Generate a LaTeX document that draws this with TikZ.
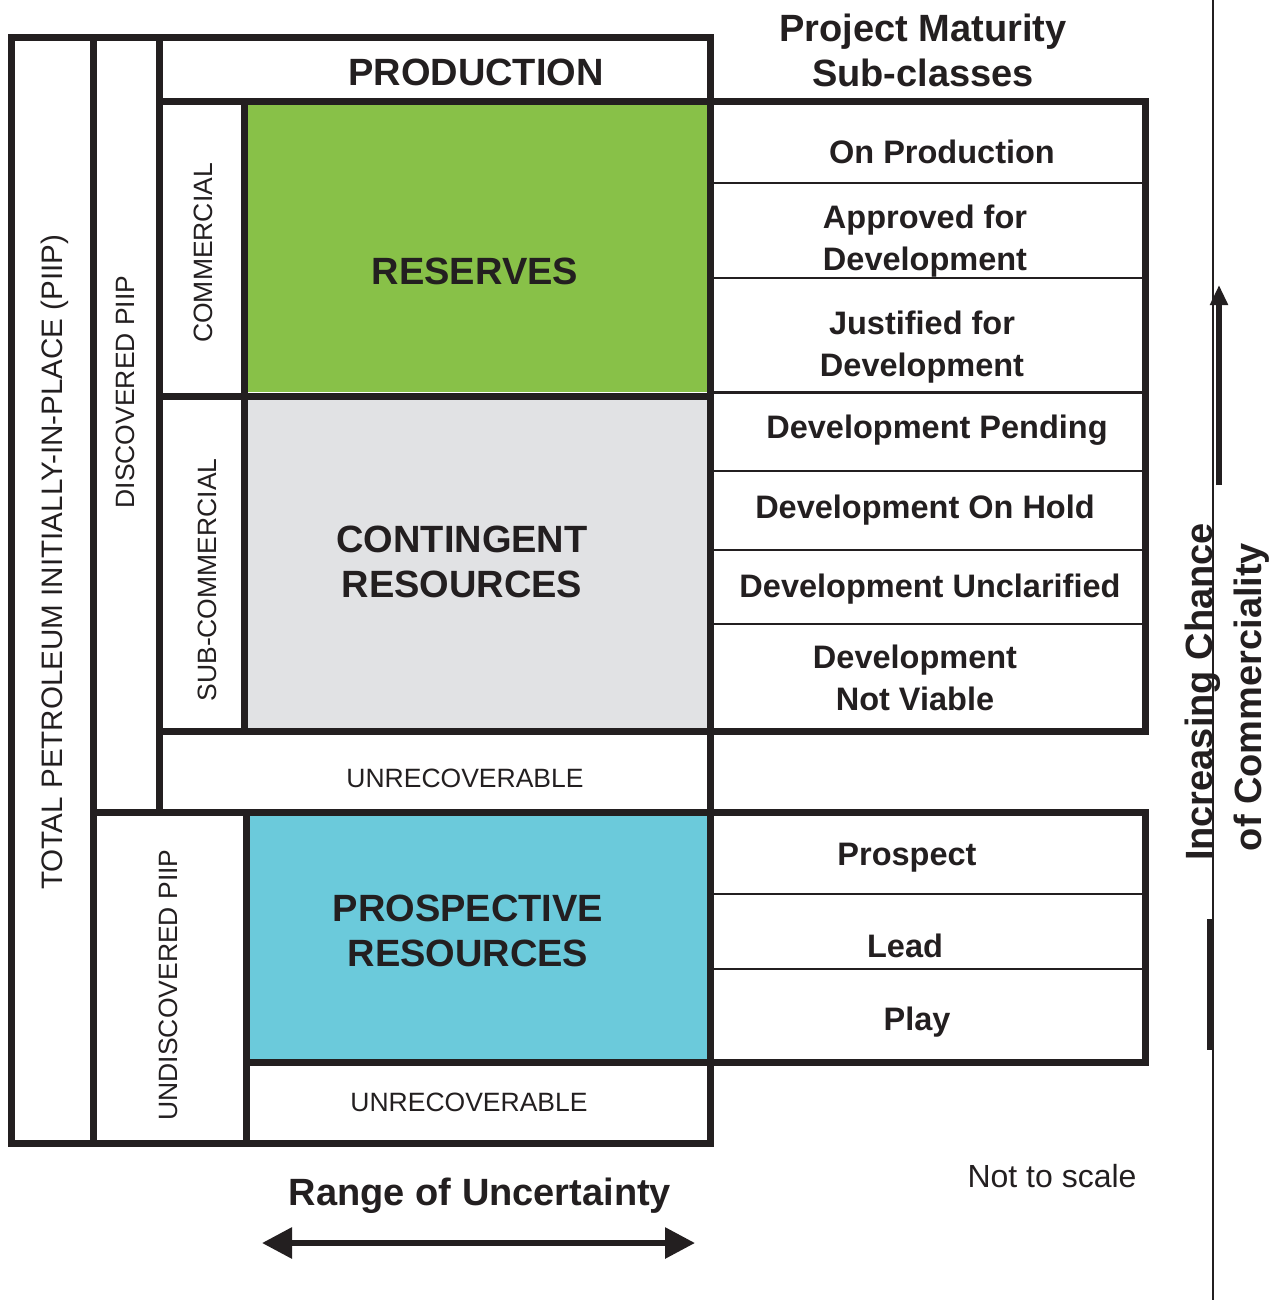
\documentclass[tikz,border=0pt]{standalone}
\usepackage{fontspec}
\setmainfont{Liberation Sans}
\usetikzlibrary{arrows.meta}
\definecolor{ink}{HTML}{231F20}
\definecolor{resgreen}{HTML}{88C148}
\definecolor{congrey}{HTML}{E1E2E4}
\definecolor{prospcyan}{HTML}{6BCADB}

\begin{document}
\begin{tikzpicture}[
  x=1pt, y=-1pt,
  frame/.style={ink, line width=7pt},
  divider/.style={ink, line width=1.5pt},
  every node/.style={inner sep=0pt, text=ink},
  big/.style={font=\bfseries\fontsize{38}{45}\selectfont, align=center},
  sub/.style={font=\bfseries\fontsize{32.5}{42}\selectfont, align=center},
  band/.style={font=\fontsize{26.5}{30}\selectfont},
  vband/.style={band, rotate=90},
  span/.style={ink, line width=6pt}
]
\useasboundingbox (0,0) rectangle (1283,1300);
\fill[resgreen] (247,105) rectangle (708,392);
\fill[congrey] (247,396) rectangle (708,728);
\fill[prospcyan] (246,812) rectangle (710,1062);

\draw[frame] (11,38) rectangle (710,1143);
\draw[frame] (93,38) -- (93,1143);
\draw[frame] (159,38) -- (159,812);
\draw[frame] (159,102) -- (1145,102) -- (1145,731) -- (159,731);
\draw[frame] (244,102) -- (244,731);
\draw[frame] (159,396) -- (710,396);
\draw[frame] (93,812) -- (1145,812) -- (1145,1062) -- (246,1062);
\draw[frame] (246,812) -- (246,1143);

\foreach \y in {183,278,471,550,624,894,969}
  \draw[divider] (712,\y) -- (1143,\y);
\draw[ink, line width=3pt] (712,392) -- (1143,392);

\node[big] (prod) at (476,72) {PRODUCTION};
\node[big] (maturity) at (923,50) {Project Maturity\\Sub-classes};
\node[big] (reserves) at (475,271) {RESERVES};
\node[big] (contingent) at (462,562) {CONTINGENT\\RESOURCES};
\node[big] (prospective) at (468,931) {PROSPECTIVE\\RESOURCES};
\node[band] (unrecdisc) at (465,778) {UNRECOVERABLE};
\node[band] (unrecundisc) at (469,1102) {UNRECOVERABLE};

\node[vband, font=\fontsize{29.6}{34}\selectfont] (total) at (55,562) {TOTAL PETROLEUM INITIALLY-IN-PLACE (PIIP)};
\node[vband] (discovered) at (125,392) {DISCOVERED PIIP};
\node[vband] (commercial) at (203,253) {COMMERCIAL};
\node[vband] (subcommercial) at (207,580) {SUB-COMMERCIAL};
\node[vband] (undiscovered) at (168,985) {UNDISCOVERED PIIP};

\node[sub] (onprod) at (942,152) {On Production};
\node[sub] (approved) at (925,241) {Approved for\\Development};
\node[sub] (justified) at (922,347) {Justified for\\Development};
\node[sub] (pending) at (937,430) {Development Pending};
\node[sub] (onhold) at (925,510) {Development On Hold};
\node[sub] (unclarified) at (930,589) {Development Unclarified};
\node[sub] (notviable) at (915,678) {Development\\Not Viable};
\node[sub] (prospect) at (907,858) {Prospect};
\node[sub] (lead) at (905,946) {Lead};
\node[sub] (play) at (917,1022) {Play};

\draw[ink, line width=2pt] (1213,0) -- (1213,1300);
\draw[ink, line width=5pt] (1209.5,919) -- (1209.5,1050);
\coordinate (upfoot) at (1219,485);
\coordinate (uptip) at (1219,285);
\draw[span, -{Triangle[length=20pt,width=17pt]}] (upfoot) -- (uptip);
\node[big, rotate=90] (chance) at (1203,692) {Increasing Chance};
\node[big, rotate=90] (commerciality) at (1252,697) {of Commerciality};

\node[font=\fontsize{32}{38}\selectfont] (scale) at (1052,1176) {Not to scale};
\node[big] (range) at (480,1196) {Range of Uncertainty};
\coordinate (lowend) at (262,1243);
\coordinate (highend) at (695,1243);
\draw[span, {Triangle[length=30pt,width=30pt]}-{Triangle[length=30pt,width=30pt]}] (lowend) -- (highend);
\end{tikzpicture}
\end{document}
